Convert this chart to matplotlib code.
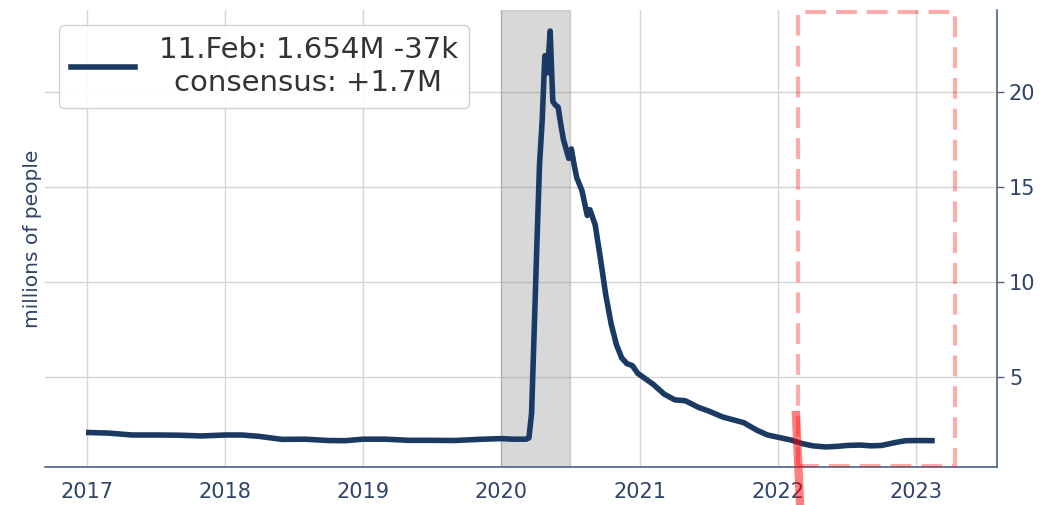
import matplotlib
matplotlib.use("Agg")
import matplotlib.pyplot as plt
import matplotlib.dates as mdates
import pandas as pd
from matplotlib.patches import Rectangle

# continuing claims, millions of people
dates = ['2017-01-07', '2017-03-01', '2017-05-01', '2017-07-01', '2017-09-01', '2017-11-01',
         '2018-01-01', '2018-02-15', '2018-04-01', '2018-06-01', '2018-08-01', '2018-10-01',
         '2018-11-15', '2019-01-01', '2019-03-01', '2019-05-01', '2019-07-01', '2019-09-01',
         '2019-11-01', '2020-01-01', '2020-02-01', '2020-03-07', '2020-03-14', '2020-03-21',
         '2020-03-28', '2020-04-04', '2020-04-11', '2020-04-18', '2020-04-25', '2020-05-02',
         '2020-05-09', '2020-05-16', '2020-05-23', '2020-05-30', '2020-06-06', '2020-06-13',
         '2020-06-20', '2020-06-27', '2020-07-04', '2020-07-11', '2020-07-18', '2020-08-01',
         '2020-08-15', '2020-08-22', '2020-09-05', '2020-09-19', '2020-10-03', '2020-10-17',
         '2020-10-31', '2020-11-14', '2020-11-28', '2020-12-12', '2020-12-26', '2021-01-09',
         '2021-02-06', '2021-03-06', '2021-04-03', '2021-05-01', '2021-06-05', '2021-07-03',
         '2021-08-07', '2021-09-04', '2021-10-02', '2021-11-06', '2021-12-04', '2022-01-08',
         '2022-02-05', '2022-03-05', '2022-04-02', '2022-05-07', '2022-06-04', '2022-07-02',
         '2022-08-06', '2022-09-03', '2022-10-01', '2022-11-05', '2022-12-03', '2023-01-07',
         '2023-02-11']
claims = [2.08, 2.05, 1.95, 1.95, 1.94, 1.90,
          1.95, 1.95, 1.88, 1.72, 1.73, 1.66,
          1.65, 1.73, 1.73, 1.67, 1.67, 1.66,
          1.72, 1.76, 1.73, 1.73, 1.80, 3.10,
          7.5, 12.0, 16.2, 18.5, 21.9, 21.0,
          23.2, 19.5, 19.3, 19.2, 18.3, 17.5,
          17.0, 16.5, 17.0, 16.2, 15.5, 14.8,
          13.5, 13.8, 13.0, 11.2, 9.3, 7.8,
          6.7, 6.0, 5.7, 5.6, 5.2, 5.0,
          4.6, 4.1, 3.8, 3.75, 3.4, 3.2,
          2.9, 2.75, 2.6, 2.2, 1.95, 1.80,
          1.68, 1.50, 1.38, 1.32, 1.35, 1.40,
          1.42, 1.38, 1.40, 1.55, 1.65, 1.66,
          1.654]

legend_label = '11.Feb: 1.654M -37k\nconsensus: +1.7M'
recession = ['2020-01-01', '2020-07-01']
box_x = ['2022-02-22', '2023-04-12']
box_y = [0.3, 24.2]
marker_x = ['2022-02-17', '2022-02-28']
marker_y = [3.0, -1.75]

navy = '#1b3a63'
axis_col = '#4b6282'
text_col = '#2e4468'

x = pd.to_datetime(dates)

fig = plt.figure(figsize=(10.43, 5.05), dpi=100)
ax = fig.add_axes([0.043, 0.075, 0.913, 0.905])

ax.axvspan(pd.Timestamp(recession[0]), pd.Timestamp(recession[1]),
           color='gray', alpha=0.3, zorder=1)
ax.plot(x, claims, color=navy, lw=4, label=legend_label, zorder=3)

bx = mdates.date2num(pd.to_datetime(box_x))
ax.add_patch(Rectangle((bx[0], box_y[0]), bx[1] - bx[0], box_y[1] - box_y[0],
                       fill=False, edgecolor='red', alpha=0.33, lw=3,
                       linestyle=(0, (5, 2.4)), zorder=4))
ax.plot(pd.to_datetime(marker_x), marker_y, color='red', alpha=0.5, lw=6,
        clip_on=False, zorder=4)

ax.set_xlim(pd.Timestamp('2016-09-13'), pd.Timestamp('2023-08-02'))
ax.set_ylim(0.26, 24.3)
ax.set_yticks([5, 10, 15, 20])
ax.xaxis.set_major_locator(mdates.YearLocator())
ax.xaxis.set_major_formatter(mdates.DateFormatter('%Y'))

ax.yaxis.tick_right()
ax.yaxis.set_label_position('left')
ax.set_ylabel('millions of people', color=text_col, fontsize=14.5, labelpad=2)

ax.grid(True, color='#d4d4d4', lw=1, zorder=0)
ax.set_axisbelow(True)
for s in ['top', 'left']:
    ax.spines[s].set_visible(False)
for s in ['right', 'bottom']:
    ax.spines[s].set_color(axis_col)
    ax.spines[s].set_linewidth(1.2)
ax.tick_params(axis='x', length=0, pad=11, labelsize=15, colors=text_col)
ax.tick_params(axis='y', length=5, width=1, labelsize=15, colors=text_col, color=axis_col)

leg = ax.legend(loc='upper left', fontsize=21, handlelength=2.2,
                bbox_to_anchor=(0.0, 1.0), frameon=True, framealpha=0.9)
for t in leg.get_texts():
    t.set_color('#333333')
    t.set_multialignment('center')

fig.savefig('out.png', dpi=100)
